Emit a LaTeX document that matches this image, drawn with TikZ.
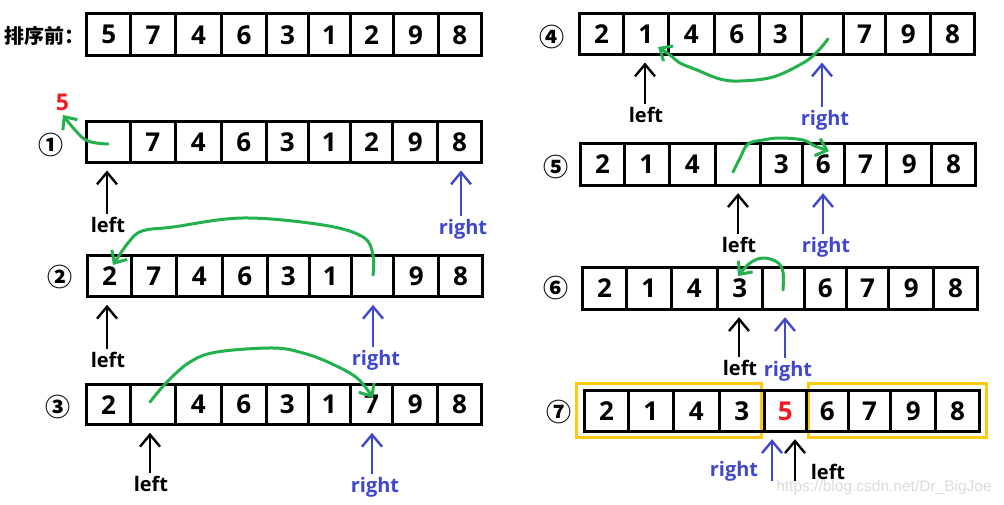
\documentclass[tikz,border=0pt]{standalone}
\usepackage{fontspec}
\setmainfont{Open Sans}
\newfontfamily\cjk{Noto Sans CJK SC}
\newfontfamily\wmfont{Liberation Sans}
\usetikzlibrary{arrows.meta}
\definecolor{pgreen}{HTML}{22B14C}
\definecolor{pblue}{HTML}{3F48CC}
\definecolor{pred}{HTML}{ED1C24}
\definecolor{pgold}{HTML}{FFC90E}
\newcommand\cellrow[5]{%
  \foreach \v [count=\i] in {#5} {
    \pgfmathsetmacro\xa{{0,44.1,88.5,135.1,179.7,222,263.6,306.3,351.3,395}[\i-1]}
    \pgfmathsetmacro\xb{{0,44.1,88.5,135.1,179.7,222,263.6,306.3,351.3,395}[\i]}
    \pgfmathsetmacro\ww{\xb-\xa}
    \node[cell, minimum width=\ww pt, minimum height=#4pt] (#1c\i) at ({#2+\xa},#3) {\v};
  }}
\begin{document}
\begin{tikzpicture}[x=1pt,y=-1pt,
  cell/.style={draw, line width=3pt, inner sep=0pt, outer sep=0pt, anchor=north west,
    font=\bfseries\fontsize{26}{26}\selectfont},
  lbl/.style={inner sep=0pt, font=\bfseries\fontsize{20}{20}\selectfont},
  lblL/.style={lbl},
  lblR/.style={lbl, text=pblue},
  ptrL/.style={line width=2.4pt, -{Straight Barb[length=12pt,width=20pt]}},
  ptrR/.style={ptrL, draw=pblue},
  garr/.style={draw=pgreen, line width=3pt, line cap=round, line join=round,
    -{Straight Barb[length=10pt,width=18pt]}},
  num/.style={inner sep=0pt, font=\cjk\bfseries\fontsize{25}{25}\selectfont},
  ybox/.style={draw=pgold, line width=3pt}]
\useasboundingbox (0,0) rectangle (1004,505);

% title row
\node[inner sep=0pt, anchor=west, font=\cjk\bfseries\fontsize{20}{20}\selectfont] (title) at (4,36) {排序前：};
\cellrow{r0}{86.7}{14}{41.5}{5,7,4,6,3,1,2,9,8}

% row 1
\node[num] (n1) at (51,145) {①};
\cellrow{r1}{86.5}{121.5}{41}{{},7,4,6,3,1,2,9,8}
\node[inner sep=0pt, text=pred, font=\bfseries\fontsize{23}{23}\selectfont] (five) at (62.5,102) {5};
\draw[garr] plot[smooth, tension=0.7] coordinates {(108,144) (88,141) (75,130) (63,115)};
\node[lblL] (L1) at (108,225) {left};
\node[lblR] (R1) at (463,229) {right};
\draw[ptrL] ([xshift=-1pt,yshift=3pt]L1.north) -- ([xshift=-1pt,yshift=-8pt]L1.north |- r1c1.south);
\draw[ptrR] ([xshift=-2pt,yshift=3pt]R1.north) -- ([xshift=-2pt,yshift=-8pt]R1.north |- r1c9.south);

% row 2
\node[num] (n2) at (60,277.5) {②};
\cellrow{r2}{87.5}{255.5}{41.3}{2,7,4,6,3,1,{},9,8}
\draw[garr] plot[smooth, tension=0.6] coordinates {(373,275) (373,255) (363,237) (323,225) (243,218) (173,227) (142,231) (128,243) (113,265)};
\node[lblL] (L2) at (108,360) {left};
\node[lblR] (R2) at (376,360) {right};
\draw[ptrL] ([xshift=-1pt,yshift=3pt]L2.north) -- ([xshift=-1pt,yshift=-8pt]L2.north |- r2c1.south);
\draw[ptrR] ([xshift=-3pt,yshift=3pt]R2.north) -- ([xshift=-3pt,yshift=-8pt]R2.north |- r2c7.south);

% row 3
\node[num] (n3) at (58,407) {③};
\cellrow{r3}{86.5}{384.5}{40.3}{2,{},4,6,3,1,7,9,8}
\draw[garr] plot[smooth, tension=0.6] coordinates {(150,402) (167,382) (190,362) (217,352) (273,348) (303,353) (330,363) (357,378) (373,398)};
\node[lblL] (L3) at (151,484) {left};
\node[lblR] (R3) at (375,487) {right};
\draw[ptrL] ([xshift=-1pt,yshift=3pt]L3.north) -- ([xshift=-1pt,yshift=-8pt]L3.north |- r3c2.south);
\draw[ptrR] ([xshift=-3pt,yshift=3pt]R3.north) -- ([xshift=-3pt,yshift=-8pt]R3.north |- r3c7.south);

% row 4
\node[num] (n4) at (552,37) {④};
\cellrow{r4}{579.5}{13.8}{40.7}{2,1,4,6,3,{},7,9,8}
\draw[garr] plot[smooth, tension=0.6] coordinates {(828,39) (817,52) (803,63) (773,77) (740,81) (720,79) (697,70) (680,63) (670,55) (658,47)};
\node[lblL] (L4) at (646,115) {left};
\node[lblR] (R4) at (825,120) {right};
\draw[ptrL] ([xshift=-1pt,yshift=3pt]L4.north) -- ([xshift=-1pt,yshift=-8pt]L4.north |- r4c2.south);
\draw[ptrR] ([xshift=-3pt,yshift=3pt]R4.north) -- ([xshift=-3pt,yshift=-8pt]R4.north |- r4c6.south);

% row 5
\node[num] (n5) at (556,167) {⑤};
\cellrow{r5}{580.5}{143.8}{41.4}{2,1,4,{},3,6,7,9,8}
\draw[garr] plot[smooth, tension=0.6] coordinates {(733,172) (740,158) (748,144) (763,140) (780,138) (803,140) (815,146) (829,151)};
\node[lblL] (L5) at (739,245) {left};
\node[lblR] (R5) at (826,247) {right};
\draw[ptrL] ([xshift=-1pt,yshift=3pt]L5.north) -- ([xshift=-1pt,yshift=-8pt]L5.north |- r5c4.south);
\draw[ptrR] ([xshift=-3pt,yshift=3pt]R5.north) -- ([xshift=-3pt,yshift=-8pt]R5.north |- r5c6.south);

% row 6
\node[num] (n6) at (556,288) {⑥};
\cellrow{r6}{582.5}{267.5}{41.7}{2,1,4,3,{},6,7,9,8}
\draw[garr] plot[smooth, tension=0.6] coordinates {(783,290) (783,272) (777,262) (763,258) (750,263) (738,276)};
\node[lblL] (L6) at (740,368) {left};
\node[lblR] (R6) at (788,371) {right};
\draw[ptrL] ([xshift=-1pt,yshift=3pt]L6.north) -- ([xshift=-1pt,yshift=-8pt]L6.north |- r6c4.south);
\draw[ptrR] ([xshift=-3pt,yshift=3pt]R6.north) -- ([xshift=-3pt,yshift=-8pt]R6.north |- r6c5.south);

% row 7
\node[num] (n7) at (559,412) {⑦};
\draw[ybox] (576.5,383.5) rectangle (761.5,437.5);
\draw[ybox] (808.5,383.5) rectangle (986.5,437.5);
\cellrow{r7}{584.5}{390.8}{40.4}{2,1,4,3,{\color{pred}5},6,7,9,8}
\node[lblR] (R7) at (734,471) {right};
\node[lblL] (L7) at (828,472) {left};
\coordinate (a7r) at (772,481);
\coordinate (a7l) at (795,481);
\draw[ptrR] (a7r) -- ([yshift=-8pt]a7r |- r7c5.south);
\draw[ptrL] (a7l) -- ([yshift=-8pt]a7l |- r7c5.south);

% watermark
\node[inner sep=0pt, text=black!14, font=\wmfont\fontsize{15.5}{15.5}\selectfont] (wm) at (884,487) {https://blog.csdn.net/Dr\_BigJoe};
\end{tikzpicture}
\end{document}
